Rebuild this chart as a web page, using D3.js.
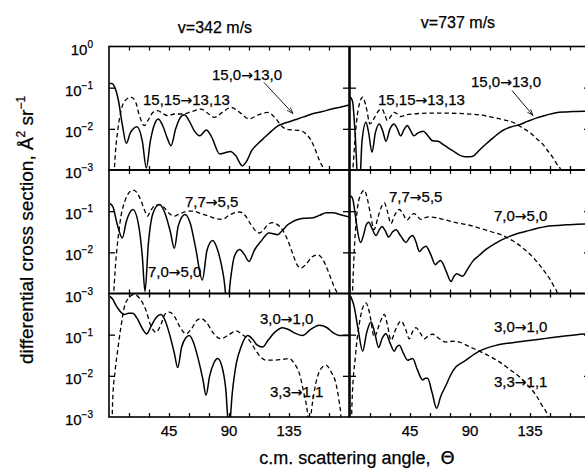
<!DOCTYPE html>
<html>
<head>
<meta charset="utf-8">
<script src="https://cdn.jsdelivr.net/npm/d3@7"></script>
<style>
  body { margin: 0; background: #fff; }
  svg { display: block; font-family: "Liberation Sans", Arial, Helvetica, sans-serif; }
  text { stroke: #000; stroke-width: 0.25px; }
</style>
</head>
<body>
<svg width="585" height="474"></svg>
<script>
// Values: [scattering angle in deg, log10 of cross section]
const speeds = ["v=342 m/s", "v=737 m/s"]
const angleLabels = [45, 90, 135]
const decadeLabels = [0, -1, -2, -3]

const v342_15_0 = [[0,-0.9],[2,-0.9],[4,-0.97],[7,-1.3],[10,-1.9],[13,-2.35],[16,-2.1],[21,-1.95],[25,-2.3],[28,-2.95],[31,-2.3],[34,-1.9],[37,-1.76],[40,-1.9],[44,-2.25],[46.5,-2.41],[50,-2.0],[53,-1.75],[56.5,-1.66],[60,-1.8],[64,-2.05],[68,-2.17],[73,-2.03],[77,-2.2],[83,-2.61],[87,-2.58],[91,-2.55],[95,-2.65],[100,-2.9],[103,-2.8],[107,-2.53],[112,-2.35],[117,-2.2],[122,-2.05],[127,-1.92],[132,-1.86],[139.5,-1.78],[146,-1.71],[152,-1.64],[160,-1.58],[167,-1.52],[174,-1.47],[180,-1.42]]
const v342_15_15 = [[3.5,-3.3],[5,-2.5],[6.5,-2.05],[9,-1.56],[12,-1.32],[16.5,-1.23],[20,-1.35],[23,-1.7],[26.5,-1.92],[30,-1.75],[33,-1.6],[36.5,-1.56],[40,-1.62],[44,-1.68],[49,-1.64],[55,-1.64],[62,-1.58],[69,-1.52],[74,-1.62],[79,-1.72],[85,-1.6],[91.5,-1.48],[98,-1.6],[105,-1.76],[112,-1.66],[119,-1.6],[125,-1.75],[130,-1.95],[135,-2.02],[143,-2.04],[148,-2.13],[151,-2.25],[154,-2.45],[157,-2.7],[159,-2.85],[161,-3.0],[162,-3.3]]
const v737_15_0 = [[0.5,-1.23],[2,-1.35],[4,-2.2],[6,-3.3],[7.5,-3.2],[9,-2.3],[12,-1.84],[14,-2.1],[16.5,-2.57],[19,-2.1],[22,-1.88],[24.5,-2.05],[27,-2.3],[30,-2.0],[33,-1.88],[35.5,-2.0],[38,-2.17],[40.5,-2.02],[43,-1.92],[45.5,-2.05],[48,-2.17],[51,-2.1],[55,-2.06],[58,-2.15],[62,-2.29],[66,-2.3],[69.5,-2.37],[73,-2.45],[77,-2.53],[81,-2.62],[86,-2.68],[90,-2.68],[93,-2.65],[97,-2.52],[102,-2.37],[108,-2.2],[114.5,-2.04],[120,-1.96],[127,-1.9],[133,-1.82],[139.5,-1.74],[147,-1.67],[154.5,-1.61],[162,-1.59],[169.5,-1.58],[180,-1.57]]
const v737_15_15 = [[1.5,-3.3],[3,-2.6],[5,-1.8],[7,-1.4],[9.5,-1.23],[12,-1.45],[15,-1.88],[18,-1.75],[21,-1.58],[24,-1.52],[26,-1.65],[28,-1.8],[30.5,-1.7],[33,-1.6],[35.5,-1.64],[38,-1.7],[42,-1.66],[47,-1.64],[60,-1.62],[72,-1.62],[85,-1.63],[97,-1.66],[107,-1.72],[115,-1.78],[122,-1.84],[128,-1.95],[134.5,-2.08],[140,-2.24],[144.5,-2.37],[148,-2.52],[152,-2.69],[155,-2.85],[158,-3.0],[159,-3.3]]

const v342_7_0 = [[0.75,-0.81],[3,-0.9],[6,-1.3],[10,-1.65],[13,-1.25],[18,-0.96],[22,-1.3],[25,-2.1],[27,-2.95],[29.5,-1.8],[33,-1.05],[37.75,-0.84],[42,-1.05],[46,-1.5],[49,-1.9],[52,-1.35],[57,-1.08],[61,-1.3],[65,-1.9],[70,-2.67],[73.5,-1.95],[77.75,-1.71],[82,-2.0],[86,-2.6],[89,-3.3],[91,-2.7],[94,-2.1],[98,-1.93],[101.5,-2.05],[105,-2.22],[109,-1.95],[114,-1.73],[120,-1.53],[126.5,-1.57],[130,-1.47],[134,-1.33],[138,-1.25],[143,-1.19],[148,-1.17],[153,-1.16],[158,-1.1],[163,-1.04],[168,-1.04],[173,-1.08],[180,-1.14]]
const v342_7_7 = [[3,-3.3],[5,-2.26],[7,-1.6],[9,-1.12],[12,-0.75],[15,-0.55],[18,-0.49],[21,-0.55],[24,-0.75],[27,-1.0],[29,-1.12],[31,-1.0],[34,-0.88],[37.75,-0.84],[41,-0.9],[45,-1.05],[49,-1.12],[52,-1.08],[55,-1.04],[59,-1.0],[63.5,-1.0],[68,-1.05],[75,-1.12],[80,-1.18],[85,-1.2],[90,-1.1],[95,-1.03],[98,-1.02],[102,-1.1],[106,-1.3],[110,-1.48],[112.75,-1.53],[116,-1.45],[119,-1.33],[122.75,-1.28],[126,-1.32],[130,-1.45],[134,-1.7],[138,-2.05],[141,-2.3],[144,-2.38],[148,-2.28],[152,-2.12],[156.5,-2.06],[160,-2.15],[163,-2.35],[166,-2.6],[169,-2.85],[171.5,-3.05],[172.5,-3.3]]
const v737_7_0 = [[0.5,-0.63],[2,-0.7],[4,-1.1],[6,-1.55],[8,-1.76],[10,-1.6],[12,-1.35],[14,-1.27],[16.5,-1.42],[19.5,-1.59],[22,-1.45],[24,-1.37],[26.5,-1.48],[29,-1.63],[32,-1.5],[34.5,-1.45],[38,-1.6],[42,-1.76],[44.5,-1.65],[47,-1.59],[49.5,-1.75],[52,-1.98],[54.5,-1.9],[57,-1.85],[60.5,-2.05],[64,-2.3],[66,-2.24],[68,-2.2],[72,-2.45],[75.75,-2.71],[78,-2.58],[80,-2.52],[82,-2.55],[84.5,-2.58],[88,-2.42],[92,-2.22],[97,-2.07],[102,-1.93],[109,-1.78],[117,-1.65],[124,-1.56],[132,-1.49],[140,-1.42],[147,-1.37],[155,-1.35],[162,-1.33],[170,-1.32],[180,-1.31]]
const v737_7_7 = [[1.5,-3.3],[3.25,-1.93],[5.75,-0.88],[8,-0.6],[10.75,-0.49],[13,-0.7],[15.5,-1.1],[18,-1.45],[21,-1.15],[23.5,-0.9],[25.75,-0.8],[28,-1.0],[30.75,-1.3],[33.5,-1.1],[37,-0.96],[40,-1.08],[42.75,-1.22],[45.5,-1.12],[48,-1.06],[50.5,-1.12],[53,-1.2],[56,-1.16],[59.5,-1.14],[70,-1.2],[79.5,-1.28],[88,-1.33],[97,-1.41],[106,-1.5],[114.5,-1.59],[122,-1.72],[129.5,-1.89],[136,-2.08],[142,-2.3],[146,-2.47],[149.5,-2.63],[152.5,-2.8],[155.75,-3.03],[156.5,-3.3]]

const v342_3_0 = [[0.75,-0.07],[3,-0.15],[5.25,-0.29],[8,-0.42],[11.5,-0.51],[14.5,-0.48],[17.75,-0.48],[21,-0.6],[25,-0.85],[28.25,-0.98],[31.5,-0.8],[35,-0.6],[39,-0.51],[42,-0.65],[45.5,-1.0],[49,-1.45],[51.5,-1.8],[54.5,-1.3],[57.5,-1.08],[60.25,-1.02],[63.5,-1.2],[67,-1.6],[70.5,-2.1],[72.75,-2.47],[75.5,-2.0],[78.5,-1.7],[81.5,-1.58],[84.5,-1.75],[87.5,-2.3],[90,-3.3],[92.5,-2.4],[95.5,-1.7],[99,-1.3],[104,-1.02],[107.5,-1.1],[111,-1.25],[115.25,-1.3],[119,-1.15],[124,-0.95],[130.25,-0.83],[135,-0.88],[140,-0.97],[145.25,-1.02],[151,-0.88],[157.75,-0.77],[163,-0.82],[168,-0.95],[172.75,-1.02],[180,-1.02]]
const v342_3_3 = [[2.2,-3.3],[2.75,-2.59],[4.5,-1.9],[6.5,-1.38],[9,-0.8],[11.5,-0.33],[15,-0.1],[19,-0.02],[23,-0.12],[27.75,-0.41],[31,-0.75],[35.25,-0.94],[39,-0.75],[42,-0.5],[45.25,-0.45],[49,-0.55],[53,-0.8],[57.75,-0.98],[62,-0.85],[66,-0.65],[69,-0.61],[73,-0.7],[78,-0.95],[84,-1.1],[90,-1.0],[95.25,-0.91],[100,-1.0],[105.25,-1.14],[110,-1.38],[114,-1.55],[117.75,-1.62],[124,-1.62],[130,-1.6],[135.25,-1.58],[139,-1.7],[142.75,-1.94],[146,-2.4],[148.5,-2.8],[150.25,-3.3],[152,-2.8],[155,-2.2],[158.5,-1.85],[162.75,-1.74],[166.5,-1.9],[170.25,-2.19],[172.5,-2.6],[174,-3.0],[174.5,-3.3]]
const v737_3_0 = [[0.5,-0.07],[3,-0.3],[6,-0.85],[9.5,-1.4],[12.5,-0.95],[15.75,-0.69],[18.5,-0.95],[21.5,-1.31],[24,-1.1],[27,-0.98],[30,-1.2],[33.25,-1.4],[35,-1.3],[37,-1.26],[40,-1.45],[43.25,-1.62],[45,-1.6],[47,-1.58],[50.5,-1.85],[54.5,-2.1],[56.5,-2.06],[58.25,-2.06],[61.5,-2.4],[65,-2.79],[68,-2.5],[72,-2.23],[75.5,-1.98],[79.5,-1.78],[83,-1.7],[87,-1.62],[92,-1.5],[97,-1.4],[103,-1.32],[109.5,-1.26],[120,-1.2],[134.5,-1.14],[147,-1.09],[159.5,-1.04],[170,-1.0],[180,-0.98]]
const v737_3_3 = [[1,-3.3],[1.5,-2.67],[4,-1.54],[7,-0.73],[9.5,-0.35],[12,-0.23],[14.5,-0.45],[18.25,-1.06],[22,-0.75],[25.75,-0.51],[28,-0.75],[30.75,-1.14],[34.5,-0.85],[38.25,-0.67],[41.5,-0.85],[44.5,-1.1],[47,-0.92],[49.5,-0.83],[52.5,-0.95],[55.75,-1.1],[59,-1.02],[62,-0.99],[67,-1.1],[72,-1.18],[77,-1.16],[82,-1.18],[90,-1.3],[97,-1.4],[105,-1.53],[112,-1.66],[120,-1.85],[127,-2.02],[133,-2.22],[139.5,-2.47],[144,-2.72],[148.25,-2.98],[149,-3.3]]

// Panel layout: col 0 = 342 m/s, col 1 = 737 m/s; rows top to bottom
const colX = [109, 350], panelW = 240
const rowY = [46.5, 170, 293.5], panelH = 123.5

// label = [from, to, x, y] inside the panel
const panels = [
  { col: 0, row: 0, solid: v342_15_0, dashed: v342_15_15,
    labels: [["15,0", "13,0", 103, 33], ["15,15", "13,13", 34, 58]], arrow: [155, 36, 184, 67] },
  { col: 1, row: 0, solid: v737_15_0, dashed: v737_15_15,
    labels: [["15,0", "13,0", 121, 40], ["15,15", "13,13", 28, 58]], arrow: [162, 44, 183, 69] },
  { col: 0, row: 1, solid: v342_7_0, dashed: v342_7_7,
    labels: [["7,7", "5,5", 76, 37], ["7,0", "5,0", 39, 107]] },
  { col: 1, row: 1, solid: v737_7_0, dashed: v737_7_7,
    labels: [["7,7", "5,5", 39, 32], ["7,0", "5,0", 144, 51]] },
  { col: 0, row: 2, solid: v342_3_0, dashed: v342_3_3,
    labels: [["3,0", "1,0", 151, 30], ["3,3", "1,1", 161, 103]] },
  { col: 1, row: 2, solid: v737_3_0, dashed: v737_3_3,
    labels: [["3,0", "1,0", 144, 38], ["3,3", "1,1", 144, 93]] }
]

const svg = d3.select("svg")
const defs = svg.append("defs")

defs.append("marker")
  .attr("id", "head")
  .attr("viewBox", "0 0 10 10")
  .attr("refX", 10).attr("refY", 5)
  .attr("markerWidth", 7).attr("markerHeight", 7)
  .attr("orient", "auto")
  .append("path")
  .attr("d", "M0,1.5 L10,5 L0,8.5")
  .attr("fill", "none")
  .attr("stroke", "#000")
  .attr("stroke-width", 1.2)

panels.forEach((p, i) => {
  const x0 = colX[p.col], y0 = rowY[p.row]
  const x = d3.scaleLinear().domain([0, 180]).range([0, panelW])
  const y = d3.scaleLog().domain([1e-3, 1]).range([panelH, 0])

  const g = svg.append("g").attr("transform", `translate(${x0},${y0})`)

  // clip the curves to the panel
  defs.append("clipPath").attr("id", "clip" + i)
    .append("rect").attr("width", panelW).attr("height", panelH)

  const line = d3.line()
    .x(d => x(d[0]))
    .y(d => y(Math.pow(10, d[1])))
    .curve(d3.curveMonotoneX)

  const curves = g.append("g").attr("clip-path", `url(#clip${i})`)
  curves.append("path").datum(p.dashed)
    .attr("d", line).attr("fill", "none").attr("stroke", "#000")
    .attr("stroke-width", 1.3).attr("stroke-dasharray", "4.5,3")
  curves.append("path").datum(p.solid)
    .attr("d", line).attr("fill", "none").attr("stroke", "#000")
    .attr("stroke-width", 1.5)

  // inward ticks on all four sides
  const xTicks = d3.range(15, 180, 15)
  const yTicks = [1e-1, 1e-2]
  g.append("g").call(d3.axisTop(x).tickValues(xTicks).tickSize(-4).tickFormat(""))
  g.append("g").attr("transform", `translate(0,${panelH})`)
    .call(d3.axisBottom(x).tickValues(xTicks).tickSize(-4).tickFormat(""))
  g.append("g").call(d3.axisLeft(y).tickValues(yTicks).tickSize(-6).tickFormat(""))
  g.append("g").attr("transform", `translate(${panelW},0)`)
    .call(d3.axisRight(y).tickValues(yTicks).tickSize(-6).tickFormat(""))
  g.selectAll(".domain").remove()
  g.selectAll(".tick line").attr("stroke", "#000").attr("stroke-width", 1.3)

  g.append("rect")
    .attr("width", panelW).attr("height", panelH)
    .attr("fill", "none").attr("stroke", "#000").attr("stroke-width", 1.6)

  // transition labels
  p.labels.forEach(([from, to, lx, ly]) => {
    const t = g.append("text").attr("x", lx).attr("y", ly).attr("font-size", 15)
    t.append("tspan").text(from)
    t.append("tspan").attr("font-family", "DejaVu Sans").attr("font-size", 14).text("→")
    t.append("tspan").text(to)
  })
  if (p.arrow) {
    const [ax1, ay1, ax2, ay2] = p.arrow
    g.append("line")
      .attr("x1", ax1).attr("y1", ay1).attr("x2", ax2).attr("y2", ay2)
      .attr("stroke", "#000").attr("stroke-width", 0.9)
      .attr("marker-end", "url(#head)")
  }

  // angle labels under the bottom row
  if (p.row === 2) {
    angleLabels.forEach(a => {
      g.append("text").attr("x", x(a)).attr("y", panelH + 19)
        .attr("text-anchor", "middle").attr("font-size", 15).text(a)
    })
  }

  // decade labels on the left column
  if (p.col === 0) {
    decadeLabels.forEach(e => {
      if (e === 0 && p.row > 0) return
      const t = g.append("text").attr("x", -16).attr("y", y(Math.pow(10, e)) + 8)
        .attr("text-anchor", "end").attr("font-size", 15)
      t.append("tspan").text("10")
      t.append("tspan").attr("dy", -7).attr("font-size", 10)
        .text(e === 0 ? "0" : "−" + (-e))
    })
  }
})

// speed titles
speeds.forEach((s, i) => {
  svg.append("text")
    .attr("x", colX[i] + panelW / 2 - 14 + i * 2)
    .attr("y", i === 0 ? 33 : 28)
    .attr("text-anchor", "middle").attr("font-size", 16)
    .text(s)
})

// axis titles
const yTitle = svg.append("text")
  .attr("transform", "translate(33,230) rotate(-90)")
  .attr("text-anchor", "middle").attr("font-size", 19)
yTitle.append("tspan").text("differential cross section, Å")
yTitle.append("tspan").attr("dy", -8).attr("font-size", 12).text("2")
yTitle.append("tspan").attr("dy", 8).text(" sr")
yTitle.append("tspan").attr("dy", -8).attr("font-size", 12).text("−1")

const xTitle = svg.append("text")
  .attr("x", 357).attr("y", 464)
  .attr("text-anchor", "middle").attr("font-size", 18)
  .attr("xml:space", "preserve")
xTitle.append("tspan").text("c.m. scattering angle,  ")
xTitle.append("tspan").attr("font-family", "DejaVu Sans").text("Θ")
</script>
</body>
</html>
